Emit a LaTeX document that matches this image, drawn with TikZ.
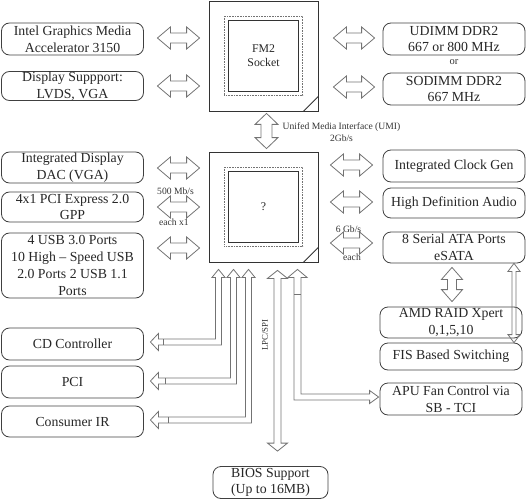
\documentclass[tikz,border=0pt]{standalone}
\usepackage{fontspec}
\setmainfont{Liberation Serif}
\usetikzlibrary{calc}
\tikzset{
  box/.style={draw=black!75, line width=0.8pt, rounded corners=8pt, align=center,
    inner sep=0pt, minimum width=142pt, minimum height=32pt, text=black!85,
    font=\fontsize{13.8}{16.7}\selectfont},
  chip/.style={draw=black!80, line width=0.8pt, minimum width=109pt, minimum height=110pt,
    align=center, inner sep=0pt, text=black!85, font=\fontsize{11.8}{14}\selectfont},
  conn/.style={draw=black!55, line width=0.8pt, line join=miter},
  lbl/.style={inner sep=0pt, text=black!80, align=center, font=\fontsize{9.6}{12}\selectfont},
  dotline/.style={draw=black!55, line width=1.1pt, dash pattern=on 0.7pt off 0.9pt},
  inline/.style={draw=black!80, line width=0.8pt}
}
\newcommand\hdarrow[5]{%
  \draw[conn] (#1) -- ($(#1)+(#5,-#4)$) -- ($(#1)+(#5,-#3)$) -- ($(#2)+(-#5,-#3)$)
    -- ($(#2)+(-#5,-#4)$) -- (#2) -- ($(#2)+(-#5,#4)$) -- ($(#2)+(-#5,#3)$)
    -- ($(#1)+(#5,#3)$) -- ($(#1)+(#5,#4)$) -- cycle;}
\newcommand\vdarrow[5]{%
  \draw[conn] (#1) -- ($(#1)+(#4,#5)$) -- ($(#1)+(#3,#5)$) -- ($(#2)+(#3,-#5)$)
    -- ($(#2)+(#4,-#5)$) -- (#2) -- ($(#2)+(-#4,-#5)$) -- ($(#2)+(-#3,-#5)$)
    -- ($(#1)+(-#3,#5)$) -- ($(#1)+(-#4,#5)$) -- cycle;}
\newcommand\lupleft[3]{%
  \draw[conn] (#1) -- ($(#1)+(6.5,8)$) -- ($(#1)+(3,8)$) -- ($(#1 |- #2)+(3,3)$)
    -- ($(#2)+(8,3)$) -- ($(#2)+(8,8.5)$) -- (#2) -- ($(#2)+(8,-8.5)$) -- ($(#2)+(8,-3)$)
    -- ($(#1 |- #2)+(-3,-3)$) -- ($(#1)+(-3,8)$) -- ($(#1)+(-6.5,8)$) -- cycle;
  \draw[conn] ($(#2)+(#3,-3)$) -- ($(#2)+(#3,3)$);}
\begin{document}
\begin{tikzpicture}[x=1pt,y=-1pt]
\useasboundingbox (0,0) rectangle (527,500);
% chips
\node[chip] (chip1) at (263.5,56) {FM2\\Socket};
\node[chip] (chip2) at (263.5,207) {?};
\foreach \c in {chip1,chip2}{
  \draw[dotline] ($(\c.north west)+(15.5,15.5)$) rectangle ($(\c.south east)+(-15.5,-15.5)$);
  \draw[inline] ($(\c.north west)+(20,20)$) rectangle ($(\c.south east)+(-20,-20)$);
  \draw[inline] ($(\c.south east)+(-15,0)$) -- ($(\c.south east)+(0,-15)$);
}
% left boxes
\node[box] (gma) at (72.5,39) {Intel Graphics Media\\Accelerator 3150};
\node[box, minimum height=29pt] (disp) at (72.5,86) {Display Suppport:\\LVDS, VGA};
\node[box, minimum height=31pt] (dac) at (72.5,167.5) {Integrated Display\\DAC (VGA)};
\node[box, minimum height=30pt] (pcie) at (72.5,207) {4x1 PCI Express 2.0\\GPP};
\node[box, minimum height=65pt] (usb) at (72.5,265.5) {4 USB 3.0 Ports\\10 High -- Speed USB\\2.0 Ports 2 USB 1.1\\Ports};
\node[box] (cd) at (72.5,344) {CD Controller};
\node[box] (pci) at (72.5,382) {PCI};
\node[box, minimum height=31pt] (ir) at (72.5,421.5) {Consumer IR};
\node[box, minimum width=115pt] (bios) at (270.5,482.5) {BIOS Support\\(Up to 16MB)};
% right boxes
\node[box] (udimm) at (454,39) {UDIMM DDR2\\667 or 800 MHz};
\node[lbl, font=\fontsize{10.5}{12}\selectfont] (or) at (454,62) {or};
\node[box] (sodimm) at (454,89) {SODIMM DDR2\\667 MHz};
\node[box] (clk) at (454,166) {Integrated Clock Gen};
\node[box, minimum height=30pt] (hda) at (454,203) {High Definition Audio};
\node[box, minimum height=31pt] (sata) at (454,247.5) {8 Serial ATA Ports\\eSATA};
\node[box, minimum height=31pt] (raid) at (451,322.5) {AMD RAID Xpert\\0,1,5,10};
\node[box, minimum height=27pt] (fis) at (451,356.5) {FIS Based Switching};
\node[box] (apu) at (451,399) {APU Fan Control via\\SB - TCI};
% left horizontal arrows
\coordinate (a1l) at ($(gma.east)+(13.5,-1)$);  \coordinate (a1r) at ($(chip1.west |- gma.east)+(-9,-1)$);
\coordinate (a2l) at ($(disp.east)+(13.5,0)$);  \coordinate (a2r) at ($(chip1.west |- disp.east)+(-9,0)$);
\coordinate (a3l) at ($(dac.east)+(13.5,0.5)$); \coordinate (a3r) at ($(chip2.west |- dac.east)+(-9,0.5)$);
\coordinate (a4l) at ($(pcie.east)+(13.5,0)$);  \coordinate (a4r) at ($(chip2.west |- pcie.east)+(-9,0)$);
\coordinate (a5l) at ($(usb.east)+(13.5,-17.5)$); \coordinate (a5r) at ($(chip2.west |- usb.east)+(-9,-17.5)$);
\hdarrow{a1l}{a1r}{5}{11}{13}
\hdarrow{a2l}{a2r}{5}{11}{13}
\hdarrow{a3l}{a3r}{5}{11}{13}
\hdarrow{a4l}{a4r}{5}{11}{13}
\hdarrow{a5l}{a5r}{5}{11}{13}
\node[lbl] (l500) at (175.5,191.5) {500 Mb/s};
\node[lbl] (lx1) at (174,222) {each x1};
% right horizontal arrows
\coordinate (b1l) at ($(chip1.east |- udimm.west)+(15,-1)$);  \coordinate (b1r) at ($(udimm.west)+(-8,-1)$);
\coordinate (b2l) at ($(chip1.east |- sodimm.west)+(15,-2)$); \coordinate (b2r) at ($(sodimm.west)+(-8,-2)$);
\coordinate (b3l) at ($(chip2.east |- clk.west)+(12,-1)$);    \coordinate (b3r) at ($(clk.west)+(-10,-1)$);
\coordinate (b4l) at ($(chip2.east |- hda.west)+(12,-1)$);    \coordinate (b4r) at ($(hda.west)+(-10,-1)$);
\coordinate (b5l) at ($(chip2.east |- sata.west)+(12,-4.5)$); \coordinate (b5r) at ($(sata.west)+(-10,-4.5)$);
\hdarrow{b1l}{b1r}{5}{11}{13}
\hdarrow{b2l}{b2r}{5}{11}{13}
\hdarrow{b3l}{b3r}{5}{11}{13}
\hdarrow{b4l}{b4r}{5}{11}{13}
\hdarrow{b5l}{b5r}{5}{11}{13}
\node[lbl] (l6g) at (348.5,229.5) {6 Gb/s};
\node[lbl] (leach) at (352,257.5) {each};
% UMI
\coordinate (umiT) at ($(chip1.south)+(3,2)$);
\coordinate (umiB) at ($(chip2.north)+(3,-3)$);
\vdarrow{umiT}{umiB}{5.5}{11.5}{11}
\node[lbl] (lumi) at (341.5,132) {Unifed Media Interface (UMI)\\2Gb/s};
% LPC/SPI
\coordinate (lpcT) at ($(chip2.south)+(14,8)$);
\coordinate (lpcB) at ($(lpcT |- bios.north)+(0,-15)$);
\vdarrow{lpcT}{lpcB}{3.5}{10}{8}
\node[lbl, rotate=90, font=\fontsize{8.8}{10}\selectfont] (llpc) at (265,335) {LPC/SPI};
% SATA - RAID
\coordinate (srT) at ($(sata.south)+(-2,4)$);
\coordinate (srB) at ($(raid.north)+(1,-5)$);
\vdarrow{srT}{srB}{4.5}{10.5}{12}
% thin right arrow SATA - FIS
\coordinate (sfT) at ($(sata.south)+(60,0)$);
\coordinate (sfB) at ($(sfT |- fis.north)+(0,0)$);
\vdarrow{sfT}{sfB}{2}{6}{8}
% L arrows to left boxes
\coordinate (u1) at ($(chip2.south)+(-45,7)$); \coordinate (e1) at ($(cd.east)+(6.5,-2)$);
\coordinate (u2) at ($(chip2.south)+(-30,7)$); \coordinate (e2) at ($(pci.east)+(6.5,-1)$);
\coordinate (u3) at ($(chip2.south)+(-15,7)$); \coordinate (e3) at ($(ir.east)+(6.5,-1.5)$);
\lupleft{u1}{e1}{13}
\lupleft{u2}{e2}{15}
\lupleft{u3}{e3}{18}
% APU arrow
\coordinate (t4) at ($(chip2.south)+(34,7)$);
\coordinate (e4) at ($(apu.west)+(-1,-2)$);
\draw[conn] (t4) -- ($(t4)+(9.5,8)$) -- ($(t4)+(3.5,8)$) -- ($(t4 |- e4)+(3.5,-3)$)
  -- ($(e4)+(-9,-3)$) -- ($(e4)+(-9,-6.5)$) -- (e4) -- ($(e4)+(-9,6.5)$) -- ($(e4)+(-9,3)$)
  -- ($(t4 |- e4)+(-3.5,3)$) -- ($(t4)+(-3.5,8)$) -- ($(t4)+(-9.5,8)$) -- cycle;
\draw[conn] ($(t4)+(-3.5,25)$) -- ($(t4)+(3.5,25)$);
\end{tikzpicture}
\end{document}
